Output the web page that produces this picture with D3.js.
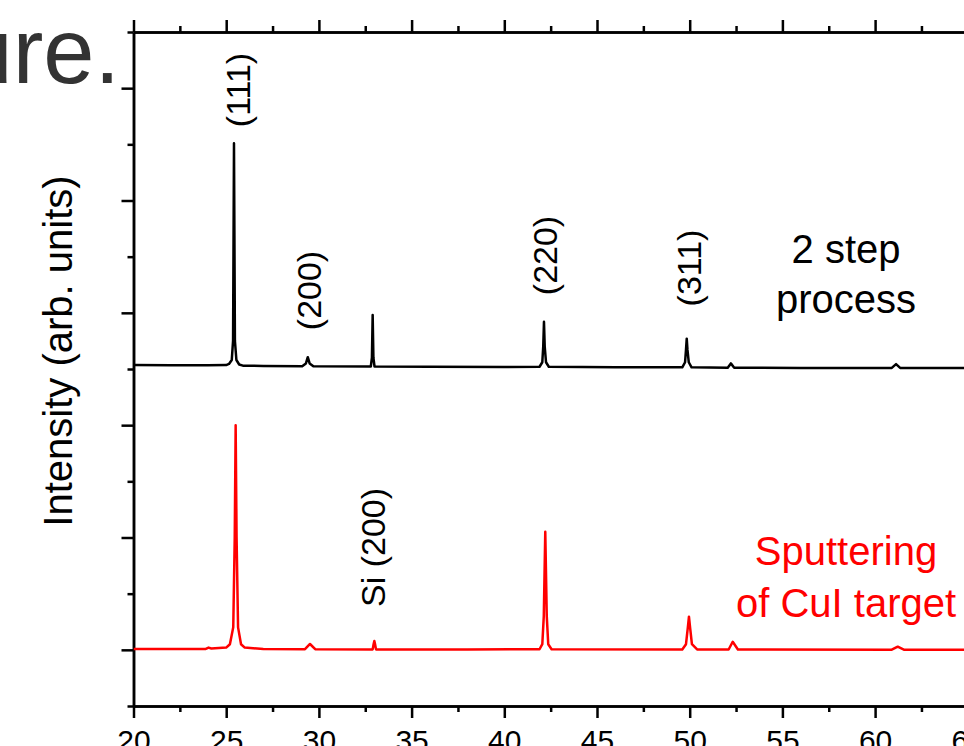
<!DOCTYPE html>
<html>
<head>
<meta charset="utf-8">
<script src="https://cdn.jsdelivr.net/npm/d3@7"></script>
<style>
  html, body { margin: 0; padding: 0; background: #fff; overflow: hidden; }
  svg { display: block; }
  text { font-family: "Liberation Sans", Arial, Helvetica, sans-serif; }
</style>
</head>
<body>
<svg id="chart" width="964" height="746"></svg>
<script>
// ---- data ----
// 2 step process (black), offset pattern
const stepTwoTheta = [20.0, 22.0, 24.0, 25.0, 25.15, 25.3, 25.37, 25.42, 25.47, 25.55, 25.7, 25.9, 27.0,
  29.1, 29.3, 29.4, 29.5, 29.7, 32.8, 32.86, 32.9, 32.94, 33.0, 36.0, 40.0,
  41.9, 42.05, 42.1, 42.14, 42.18, 42.25, 42.4, 46.0,
  49.6, 49.75, 49.8, 49.84, 49.88, 49.95, 50.1, 52.05, 52.22, 52.4, 56.0, 60.9, 61.13, 61.35, 65.0, 66.0];
const stepIntensity = [2.535, 2.534, 2.533, 2.535, 2.545, 2.58, 2.75, 4.51, 2.75, 2.58, 2.54, 2.53, 2.527,
  2.525, 2.55, 2.605, 2.55, 2.525, 2.522, 2.6, 2.98, 2.6, 2.522, 2.52, 2.518,
  2.52, 2.56, 2.7, 2.92, 2.7, 2.56, 2.52, 2.515,
  2.515, 2.56, 2.67, 2.77, 2.67, 2.56, 2.515, 2.512, 2.55, 2.512, 2.51, 2.51, 2.543, 2.51, 2.508, 2.508];

// Sputtering of CuI target (red)
const sputTwoTheta = [20.0, 23.9, 24.05, 24.2, 25.0, 25.2, 25.38, 25.46, 25.51, 25.56, 25.64, 25.8, 26.0, 27.0,
  29.25, 29.52, 29.8, 32.9, 32.95, 32.99, 33.03, 33.08, 38.0,
  41.9, 42.05, 42.13, 42.21, 42.29, 42.37, 42.55,
  49.6, 49.8, 49.9, 49.96, 50.02, 50.12, 50.4, 52.1, 52.32, 52.6, 60.9, 61.22, 61.55, 66.0];
const sputIntensity = [0.008, 0.008, 0.02, 0.012, 0.02, 0.05, 0.2, 1.0, 2.0, 1.0, 0.2, 0.05, 0.02, 0.008,
  0.006, 0.052, 0.006, 0.004, 0.05, 0.079, 0.05, 0.004, 0.003,
  0.005, 0.05, 0.3, 1.052, 0.3, 0.05, 0.005,
  0.003, 0.05, 0.2, 0.295, 0.2, 0.05, 0.003, 0.003, 0.072, 0.003, 0.001, 0.028, 0.001, 0.0];

const xMajorTicks = [20, 25, 30, 35, 40, 45, 50, 55, 60, 65];
const xMinorTicks = [22.5, 27.5, 32.5, 37.5, 42.5, 47.5, 52.5, 57.5, 62.5];
const yMajorTicks = [0, 1, 2, 3, 4, 5];
const yMinorTicks = [-0.5, 0.5, 1.5, 2.5, 3.5, 4.5, 5.5];

const peakLabels = ["(111)", "(200)", "(220)", "(311)", "Si (200)"];
const seriesNames = [["2 step", "process"], ["Sputtering", "of CuI target"]];

// ---- layout ----
const svg = d3.select("#chart");
const plotLeft = 133.5, plotTop = 32, plotBottom = 706;
const x = d3.scaleLinear().domain([20, 65]).range([plotLeft, plotLeft + 45 * 18.54]);
const y = d3.scaleLinear().domain([-0.5, 5.5]).range([plotBottom, plotTop]);
const axisW = 2.5;

// slide title fragment
svg.append("text").attr("x", 120).attr("y", 83).attr("text-anchor", "end")
  .attr("font-size", 92).attr("fill", "#333").text("ure.");

function styleAxis(g) {
  g.selectAll("path.domain").attr("stroke", "#000").attr("stroke-width", axisW);
  g.selectAll(".tick line").attr("stroke", "#000").attr("stroke-width", axisW);
}

// bottom axis
const gB = svg.append("g").attr("transform", `translate(0,${plotBottom})`)
  .call(d3.axisBottom(x).tickValues(xMajorTicks).tickSize(12).tickSizeOuter(0).tickPadding(12).tickFormat(d3.format("d")));
styleAxis(gB);
gB.selectAll("text").attr("font-size", 30).attr("fill", "#000");
const gBm = svg.append("g").attr("transform", `translate(0,${plotBottom})`)
  .call(d3.axisBottom(x).tickValues(xMinorTicks).tickSize(6).tickSizeOuter(0).tickFormat(""));
styleAxis(gBm);

// top axis
const gT = svg.append("g").attr("transform", `translate(0,${plotTop})`)
  .call(d3.axisTop(x).tickValues(xMajorTicks).tickSize(12).tickSizeOuter(0).tickFormat(""));
styleAxis(gT);
const gTm = svg.append("g").attr("transform", `translate(0,${plotTop})`)
  .call(d3.axisTop(x).tickValues(xMinorTicks).tickSize(6).tickSizeOuter(0).tickFormat(""));
styleAxis(gTm);

// left axis
const gL = svg.append("g").attr("transform", `translate(${plotLeft},0)`)
  .call(d3.axisLeft(y).tickValues(yMajorTicks).tickSize(12).tickSizeOuter(0).tickFormat(""));
styleAxis(gL);
const gLm = svg.append("g").attr("transform", `translate(${plotLeft},0)`)
  .call(d3.axisLeft(y).tickValues(yMinorTicks).tickSize(6).tickSizeOuter(0).tickFormat(""));
styleAxis(gLm);

// y label
svg.append("text").attr("transform", "translate(72,351) rotate(-90)")
  .attr("text-anchor", "middle").attr("font-size", 40).attr("fill", "#000")
  .text("Intensity (arb. units)");

// curves
const line = d3.line().x(d => x(d[0])).y(d => y(d[1]));
const stepData = stepTwoTheta.map((t, i) => [t, stepIntensity[i]]);
const sputData = sputTwoTheta.map((t, i) => [t, sputIntensity[i]]);

svg.append("clipPath").attr("id", "clip").append("rect")
  .attr("x", plotLeft).attr("y", plotTop).attr("width", 964 - plotLeft).attr("height", plotBottom - plotTop);

svg.append("path").datum(sputData).attr("d", line).attr("clip-path", "url(#clip)")
  .attr("fill", "none").attr("stroke", "#ff0000").attr("stroke-width", 2.5).attr("stroke-linejoin", "round");
svg.append("path").datum(stepData).attr("d", line).attr("clip-path", "url(#clip)")
  .attr("fill", "none").attr("stroke", "#000").attr("stroke-width", 2.5).attr("stroke-linejoin", "round");

// peak labels (rotated)
const labelPos = [[250, 90], [320.5, 290.5], [557, 255.5], [701, 268], [384.5, 547.5]];
peakLabels.forEach((t, i) => {
  svg.append("text").attr("transform", `translate(${labelPos[i][0]},${labelPos[i][1]}) rotate(-90)`)
    .attr("text-anchor", "middle").attr("font-size", 34).attr("fill", "#000").text(t);
});

// series captions
const capX = 846;
const capY = [[263, 313], [565, 617]];
const capColor = ["#000", "#ff0000"];
seriesNames.forEach((lines, i) => {
  lines.forEach((t, j) => {
    svg.append("text").attr("x", capX).attr("y", capY[i][j]).attr("text-anchor", "middle")
      .attr("font-size", 40).attr("fill", capColor[i]).text(t);
  });
});
</script>
</body>
</html>
